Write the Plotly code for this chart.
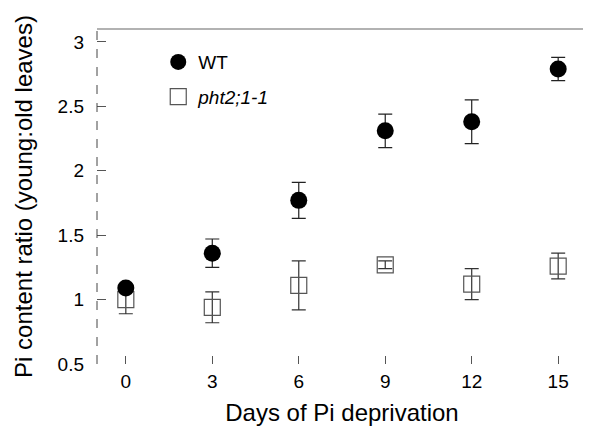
import plotly.graph_objects as go

days = [0, 3, 6, 9, 12, 15]
wt_mean = [1.09, 1.36, 1.77, 2.31, 2.38, 2.79]
wt_err = [0.03, 0.11, 0.14, 0.13, 0.17, 0.09]
mut_mean = [1.00, 0.94, 1.11, 1.27, 1.12, 1.26]
mut_err = [0.11, 0.12, 0.19, 0.03, 0.12, 0.10]
x_ticks = [0, 3, 6, 9, 12, 15]
y_ticks = [0.5, 1, 1.5, 2, 2.5, 3]
x_range = [-1, 16]
y_range = [0.5, 3.1]

FONT = "Liberation Sans, Arial, Helvetica, sans-serif"

fig = go.Figure()
fig.add_trace(go.Scatter(
    x=days, y=mut_mean, mode="markers", name="<i>pht2;1-1</i>",
    legendgroup="b",
    marker=dict(symbol="square-open", size=16, color="#555555", line=dict(width=1.2)),
    error_y=dict(type="data", array=mut_err, visible=True, color="#333333", thickness=1.2, width=7),
    legendrank=2,
))
fig.add_trace(go.Scatter(
    x=days, y=wt_mean, mode="markers", name="WT",
    legendgroup="a",
    marker=dict(symbol="circle", size=17, color="black"),
    error_y=dict(type="data", array=wt_err, visible=True, color="#222222", thickness=1.2, width=7),
    legendrank=1,
))

# The page body has an 8px default margin, so the figure is sized to compensate.
fig.update_layout(
    width=583, height=419,
    margin=dict(l=89, r=4, t=21, b=63),
    paper_bgcolor="white", plot_bgcolor="white",
    font=dict(family=FONT, size=19, color="black"),
    showlegend=True,
    legend=dict(x=0.125, y=0.958, xanchor="left", yanchor="top",
                bgcolor="rgba(0,0,0,0)", font=dict(size=19), tracegroupgap=7,
                itemsizing="trace"),
    xaxis=dict(range=x_range, tickvals=x_ticks, ticks="inside", ticklen=8,
               tickcolor="#555555", tickwidth=1, showgrid=False, zeroline=False,
               showline=False, tickfont=dict(size=19), ticklabelstandoff=4,
               automargin=False,
               title=dict(text="Days of Pi deprivation", font=dict(size=24), standoff=13)),
    yaxis=dict(range=y_range, tickvals=y_ticks, ticktext=["0.5", "1", "1.5", "2", "2.5", "3"],
               ticks="inside", ticklen=9, tickcolor="#555555", tickwidth=1,
               showgrid=False, zeroline=False, showline=False, tickfont=dict(size=19),
               ticklabelstandoff=12, automargin=False,
               title=dict(text="Pi content ratio (young:old leaves)", font=dict(size=24), standoff=18)),
    shapes=[
        dict(type="line", xref="paper", yref="paper", x0=0, x1=0, y0=0, y1=1,
             line=dict(color="#444444", width=1, dash="dash")),
        dict(type="line", xref="paper", yref="paper", x0=0, x1=1, y0=1, y1=1,
             line=dict(color="#999999", width=1.5)),
        dict(type="line", xref="x", yref="paper", x0=x_range[1], x1=x_range[1], y0=0, y1=1,
             line=dict(color="#777777", width=1.5, dash="dash")),
    ],
)

fig.write_html("out.html")
